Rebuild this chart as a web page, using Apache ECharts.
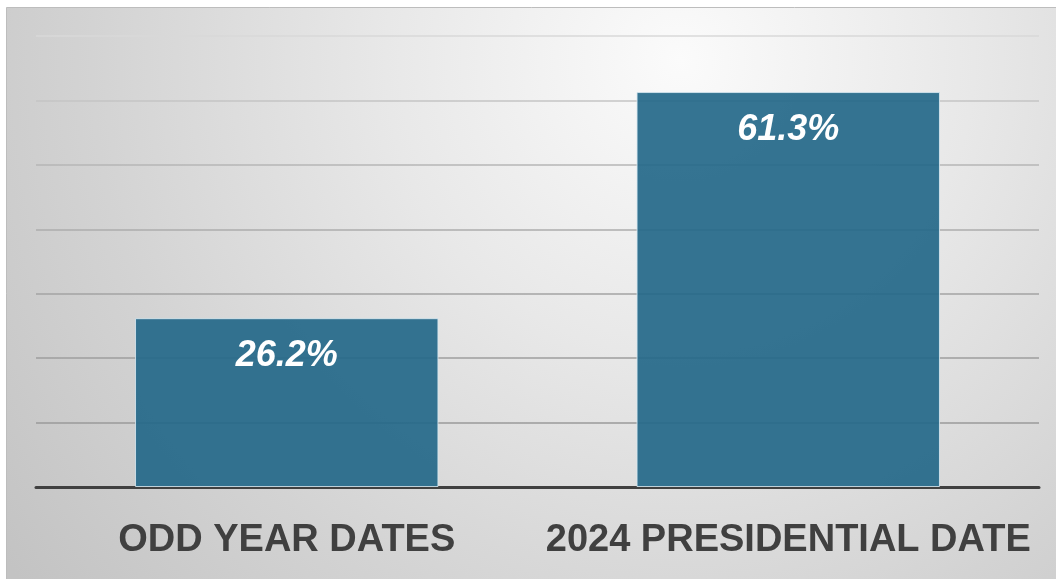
<!DOCTYPE html>
<html>
<head>
<meta charset="utf-8">
<script src="https://cdn.jsdelivr.net/npm/echarts@6/dist/echarts.min.js"></script>
<style>
  html, body { margin: 0; padding: 0; background: #ffffff; }
  #chart { width: 1056px; height: 579px; }
</style>
</head>
<body>
<div id="chart"></div>
<script>
// Turnout by election date
const categories = ['ODD YEAR DATES', '2024 PRESIDENTIAL DATE'];
const turnout = [26.2, 61.3];
const yTicks = { min: 0, max: 70, interval: 10 };

// gridline shades, from the baseline upward (lighter toward the top)
const gridShades = ['#9a9a9a', '#9a9a9a', '#9e9e9e', '#a3a3a3', '#adadad', '#b6b6b6', '#c4c4c4', '#d8d8d8'];

const chart = echarts.init(document.getElementById('chart'), null, { renderer: 'canvas' });

chart.setOption({
  animation: false,
  backgroundColor: '#ffffff',
  graphic: [{
    type: 'rect',
    z: -10,
    silent: true,
    shape: { x: 6.5, y: 7.5, width: 1060, height: 580 },
    style: {
      fill: {
        type: 'radial', x: 680, y: 60, r: 840, global: true,
        colorStops: [
          { offset: 0, color: '#fbfbfb' },
          { offset: 0.35, color: '#e8e8e8' },
          { offset: 0.7, color: '#d3d3d3' },
          { offset: 1, color: '#c3c3c3' }
        ]
      },
      stroke: '#bdbdbd',
      lineWidth: 1
    }
  }],
  grid: { left: 36, right: 17, top: 36, bottom: 92, containLabel: false },
  xAxis: {
    type: 'category',
    data: categories,
    axisLine: { show: true, lineStyle: { color: '#404040', width: 3 } },
    axisTick: { show: false },
    axisLabel: {
      interval: 0,
      hideOverlap: false,
      margin: 35,
      color: '#404040',
      fontFamily: 'Liberation Sans',
      fontWeight: 'bold',
      fontSize: 38
    }
  },
  yAxis: {
    type: 'value',
    min: yTicks.min,
    max: yTicks.max,
    interval: yTicks.interval,
    axisLine: { show: false },
    axisTick: { show: false },
    axisLabel: { show: false },
    splitLine: { show: true, lineStyle: { color: gridShades, width: 1.5 } }
  },
  series: [{
    type: 'bar',
    data: turnout,
    barCategoryGap: '39.5%',
    itemStyle: {
      color: 'rgba(36,104,137,0.92)',
      borderColor: 'rgba(215,232,240,0.85)',
      borderWidth: 1
    },
    label: {
      show: true,
      position: 'insideTop',
      distance: 20,
      formatter: p => p.value.toFixed(1) + '%',
      color: '#ffffff',
      fontFamily: 'Liberation Sans',
      fontWeight: 'bold',
      fontStyle: 'italic',
      fontSize: 36
    }
  }]
});
</script>
</body>
</html>
